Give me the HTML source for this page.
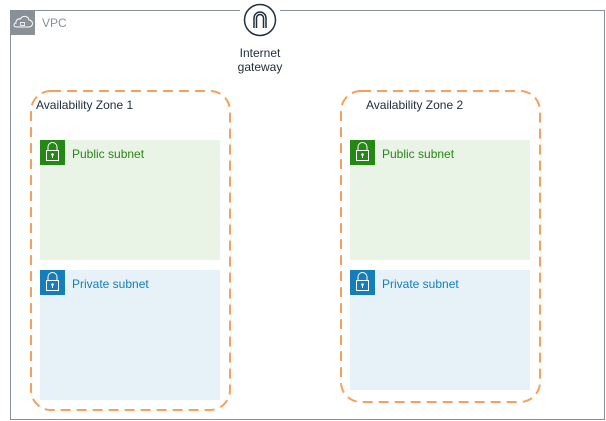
<!DOCTYPE html>
<html><head><style>body{margin:0;background:#fff}svg{display:block}text{font-family:"Liberation Sans",sans-serif;font-size:12px}</style></head><body>
<svg width="606" height="421" viewBox="0 0 606 421">
<rect x="10.5" y="10.5" width="594" height="409" fill="none" stroke="#879196"/>
<rect x="240" y="4" width="40" height="12" fill="#fff"/>
<rect x="10" y="10" width="25" height="25" fill="#879196"/>
<path d="M16 27 h13 a3.5 3.5 0 0 0 0-7 a4.5 4.5 0 0 0-8.5-1 a3.5 3.5 0 0 0-4.5 4 a2 2 0 0 0 0 4z" fill="none" stroke="#fff" stroke-width="1"/>
<rect x="20.5" y="22.5" width="4" height="3" fill="none" stroke="#fff" stroke-width="0.8"/>
<text x="42" y="27" fill="#879196">VPC</text>
<circle cx="260" cy="20" r="15.5" fill="#fff" stroke="#232f3e" stroke-width="1.5"/>
<path d="M254 28 v-10 a6 6 0 0 1 12 0 v10 M256.5 28 v-10 a3.5 3.5 0 0 1 7 0 v10" fill="none" stroke="#232f3e" stroke-width="1.5"/>
<text x="260" y="57" text-anchor="middle" fill="#232f3e">Internet</text>
<text x="260" y="71" text-anchor="middle" fill="#232f3e">gateway</text>
<rect x="31" y="91" width="199" height="319" rx="20" fill="none" stroke="#f5a05c" stroke-width="2" stroke-dasharray="10 6"/>
<rect x="341" y="91" width="199" height="311" rx="20" fill="none" stroke="#f5a05c" stroke-width="2" stroke-dasharray="10 6"/>
<text x="36" y="109" fill="#232f3e">Availability Zone 1</text>
<text x="366" y="109" fill="#232f3e">Availability Zone 2</text>
<g id="pub">
<rect x="40" y="140" width="180" height="120" fill="#e9f3e6"/>
<rect x="40" y="140" width="25" height="25" fill="#248814"/>
<path d="M48 151 v-4 a4.5 4.5 0 0 1 9 0 v4" fill="none" stroke="#fff"/>
<rect x="46.5" y="150.5" width="12" height="10" fill="none" stroke="#fff"/>
<circle cx="52.5" cy="154.5" r="1.3" fill="#fff"/><path d="M52.5 155 v3" stroke="#fff"/>
<text x="72" y="158" fill="#248814">Public subnet</text>
</g>
<g id="priv">
<rect x="40" y="270" width="180" height="130" fill="#e6f2f8"/>
<rect x="40" y="270" width="25" height="25" fill="#147eba"/>
<path d="M48 281 v-4 a4.5 4.5 0 0 1 9 0 v4" fill="none" stroke="#fff"/>
<rect x="46.5" y="280.5" width="12" height="10" fill="none" stroke="#fff"/>
<circle cx="52.5" cy="284.5" r="1.3" fill="#fff"/><path d="M52.5 285 v3" stroke="#fff"/>
<text x="72" y="288" fill="#147eba">Private subnet</text>
</g>
<use href="#pub" x="310"/>
<g transform="translate(310,0)">
<rect x="40" y="270" width="180" height="120" fill="#e6f2f8"/>
<rect x="40" y="270" width="25" height="25" fill="#147eba"/>
<path d="M48 281 v-4 a4.5 4.5 0 0 1 9 0 v4" fill="none" stroke="#fff"/>
<rect x="46.5" y="280.5" width="12" height="10" fill="none" stroke="#fff"/>
<circle cx="52.5" cy="284.5" r="1.3" fill="#fff"/><path d="M52.5 285 v3" stroke="#fff"/>
<text x="72" y="288" fill="#147eba">Private subnet</text>
</g>
</svg>
</body></html>
